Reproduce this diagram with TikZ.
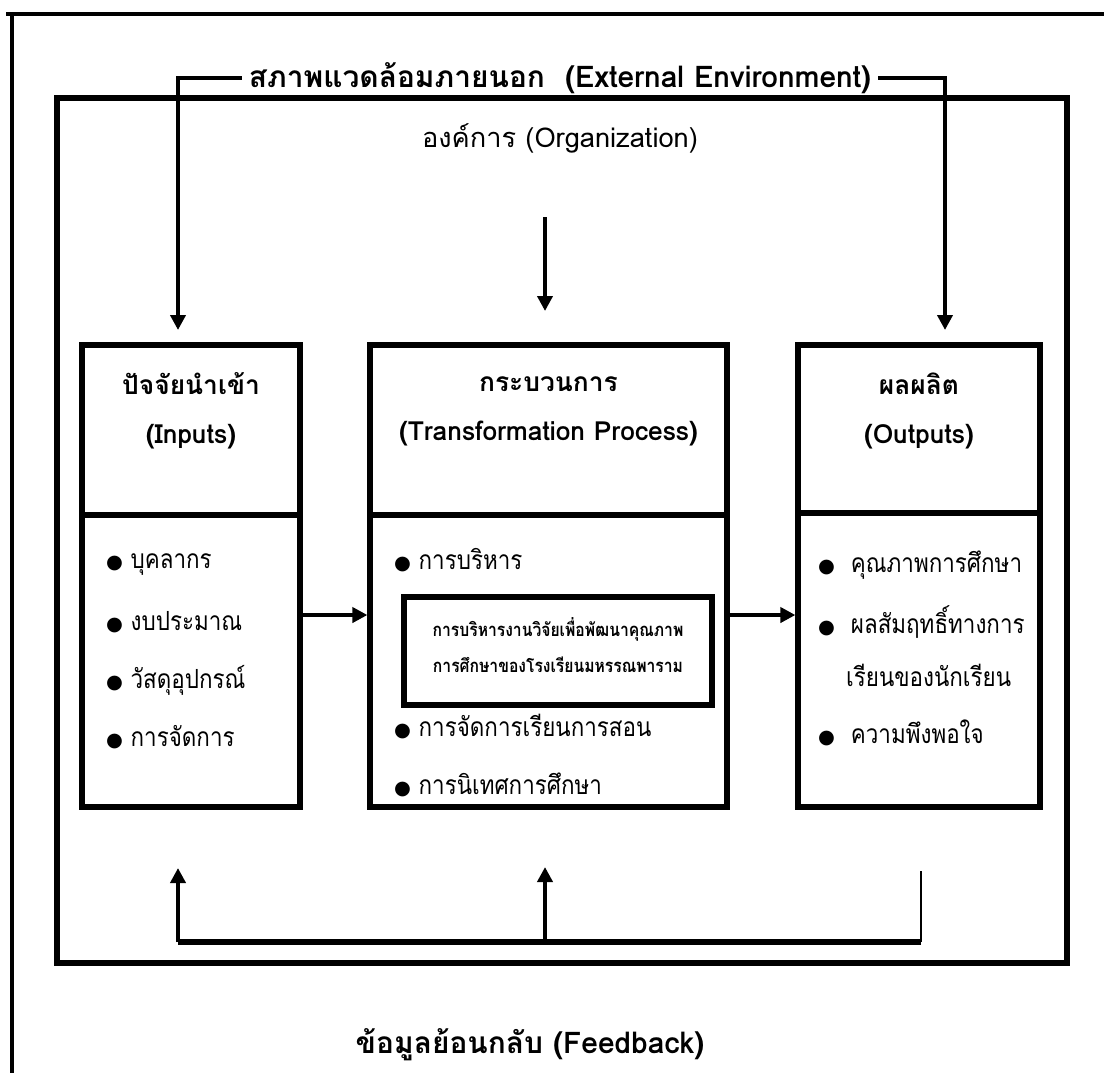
\documentclass[tikz,border=0pt]{standalone}
\usepackage{fontspec}
\setmainfont[Script=Thai]{Loma}
\newfontfamily\thainarrow[Script=Thai, FakeStretch=0.85]{Loma}
\newfontfamily\symfont{DejaVu Sans}
\usepackage{tikz}
\usetikzlibrary{arrows.meta}
\usetikzlibrary{calc}
\newcommand{\bdot}{{\symfont\fontsize{11}{13}\selectfont ●}}

\begin{document}
\begin{tikzpicture}[x=0.02cm, y=-0.02cm,
        box_style/.style={draw=black, line width=3pt, minimum height=9.24cm},
        head_style/.style={font=\fontsize{15}{18}\selectfont\bfseries, align=center},
        item_style/.style={anchor=west, font=\thainarrow\fontsize{15}{18}\selectfont},
        arrow_style/.style={draw=black, line width=2.4pt, -{Triangle[length=0.3cm, width=0.3cm]}},
        line_style/.style={draw=black, line width=2.4pt}]

        \useasboundingbox (0,0) rectangle (1104,1073);

        % frame of the environment
        \draw [line width=2.2pt] (6,14) -- (1104,14);
        \draw [line width=2.2pt] (12,14) -- (12,1073);

        \node [draw=black, line width=3pt, minimum width=20.2cm, minimum height=17.3cm](org) at (562,530.5) {};

        \node [font=\fontsize{17}{20}\selectfont\bfseries, inner sep=4pt](ext) at (560,78) {สภาพแวดล้อมภายนอก\ \ (External Environment)};
        \node [font=\fontsize{15.5}{19}\selectfont](orgname) at (560,138) {องค์การ (Organization)};

        \node [box_style, minimum width=4.36cm](inp) at (191,576) {};
        \node [box_style, minimum width=7.14cm](proc) at (548.5,576) {};
        \node [box_style, minimum width=4.84cm](outp) at (919,576) {};

        \draw [line_style, line width=3pt] (inp.west |- 0,515) -- (inp.east |- 0,515);
        \draw [line_style, line width=3pt] (proc.west |- 0,515) -- (proc.east |- 0,515);
        \draw [line_style, line width=3pt] (outp.west |- 0,513) -- (outp.east |- 0,513);

        \node [head_style](inhead) at (191,411) {ปัจจัยนำเข้า\\[10pt](Inputs)};
        \node [head_style](prochead) at (548.5,411) {กระบวนการ\\[10pt](Transformation Process)};
        \node [head_style](outhead) at (919,411) {ผลผลิต\\[10pt](Outputs)};

        \node [item_style](i1) at (100,565) {\bdot\ บุคลากร};
        \node [item_style](i2) at (100,622) {\bdot\ งบประมาณ};
        \node [item_style](i3) at (100,680) {\bdot\ วัสดุอุปกรณ์};
        \node [item_style](i4) at (100,737) {\bdot\ การจัดการ};

        \node [item_style](p1) at (388,560) {\bdot\ การบริหาร};
        \node [draw=black, line width=3pt, minimum width=6.16cm, minimum height=2.16cm](res) at (558,651) {};
        \node [font=\thainarrow\fontsize{10.5}{13}\selectfont\bfseries, align=center](restext) at (558,645) {การบริหารงานวิจัยเพื่อพัฒนาคุณภาพ\\[8pt]การศึกษาของโรงเรียนมหรรณพาราม};
        \node [item_style](p2) at (388,727) {\bdot\ การจัดการเรียนการสอน};
        \node [item_style](p3) at (388,785) {\bdot\ การนิเทศการศึกษา};

        \node [item_style](o1) at (812,565) {\bdot\hspace{9pt}คุณภาพการศึกษา};
        \node [item_style](o2) at (812,622) {\bdot\hspace{9pt}ผลสัมฤทธิ์ทางการ};
        \node [item_style](o2b) at (840,675) {เรียนของนักเรียน};
        \node [item_style](o3) at (812,733) {\bdot\hspace{9pt}ความพึงพอใจ};

        % connector ends
        \coordinate (inTop) at (178,330);
        \coordinate (outTop) at (945,330);
        \coordinate (orgTop) at (545,217);
        \coordinate (procTop) at (545,311);
        \coordinate (fbR) at (921,871);
        \coordinate (fbRB) at (921,942);
        \coordinate (fbL) at (178,942);
        \coordinate (fbM) at (545,942);
        \coordinate (fbLTip) at (178,868);
        \coordinate (fbMTip) at (545,867);

        \draw [arrow_style] (ext.west) -| (inTop);
        \draw [arrow_style] (ext.east) -| (outTop);
        \draw [arrow_style] (orgTop) -- (procTop);

        \draw [arrow_style] (inp.east |- 0,615) -- (proc.west |- 0,615);
        \draw [arrow_style] (proc.east |- 0,615) -- (outp.west |- 0,615);

        \draw [line_style, line width=1.4pt] (fbR) -- (fbRB);
        \draw [line_style, line width=3pt] (fbRB) -- (fbL);
        \draw [arrow_style] (fbL) -- (fbLTip);
        \draw [arrow_style] (fbM) -- (fbMTip);

        \node [font=\fontsize{17}{20}\selectfont\bfseries](fb) at (530,1045) {ข้อมูลย้อนกลับ (Feedback)};

        \end{tikzpicture}
\end{document}
